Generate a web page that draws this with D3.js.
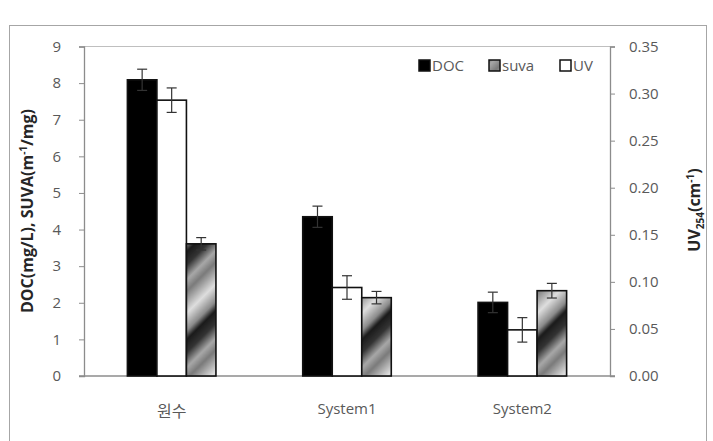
<!DOCTYPE html>
<html>
<head>
<meta charset="utf-8">
<script src="https://cdn.jsdelivr.net/npm/d3@7"></script>
<style>
  body { margin: 0; background: #fff; }
  text { font-family: "Open Sans", "Noto Sans", "Noto Sans CJK KR", sans-serif; }
</style>
</head>
<body>
<div id="chart"></div>
<script>
const categories = ['원수', 'System1', 'System2']
const docValues = [8.09, 4.35, 2.01]
const docErr = [0.29, 0.29, 0.28]
const uvValues = [0.293, 0.094, 0.049]
const uvErr = [0.013, 0.0125, 0.013]
const suvaValues = [3.61, 2.14, 2.33]
const suvaErr = [0.17, 0.17, 0.2]
const leftTicks = [0, 1, 2, 3, 4, 5, 6, 7, 8, 9]
const rightTicks = [0, 0.05, 0.10, 0.15, 0.20, 0.25, 0.30, 0.35]

const width = 713
const height = 441
const plotLeft = 84, plotRight = 610, plotTop = 46.5, plotBottom = 376
const labelColor = '#595959'
const axisColor = '#8c8c8c'

const svg = d3.select('#chart').append('svg')
    .attr('width', width)
    .attr('height', height)

const defs = svg.append('defs')
const grad = defs.append('linearGradient').attr('id', 'suvaGrad')
    .attr('x1', 0).attr('x2', 1).attr('y1', 0).attr('y2', 0)
const stops = [[0, '#1a1a1a'], [0.15, '#333'], [0.32, '#a8a8a8'], [0.45, '#7a7a7a'], [0.7, '#dedede'], [0.9, '#8a8a8a'], [1, '#1a1a1a']]
stops.forEach(s => grad.append('stop').attr('offset', s[0]).attr('stop-color', s[1]))
const pat = defs.append('pattern').attr('id', 'suvaPat')
    .attr('patternUnits', 'userSpaceOnUse')
    .attr('width', 62).attr('height', 10)
    .attr('patternTransform', 'rotate(45)')
pat.append('rect').attr('width', 62).attr('height', 10).attr('fill', 'url(#suvaGrad)')

// outer frame
svg.append('rect').attr('x', 9.5).attr('y', 25.5).attr('width', 697).attr('height', 440)
    .attr('fill', 'none').attr('stroke', '#a6a6a6').attr('stroke-width', 1)

const x0 = d3.scaleBand().domain(categories).range([plotLeft, plotRight])
const series = ['DOC', 'UV', 'suva']
const x1 = d3.scaleBand().domain(series).range([0, x0.bandwidth()]).paddingOuter(1.47)
const yL = d3.scaleLinear().domain([0, 9]).range([plotBottom, plotTop])
const yR = d3.scaleLinear().domain([0, 0.35]).range([plotBottom, plotTop])

// plot top border
svg.append('line').attr('x1', plotLeft).attr('x2', plotRight)
    .attr('y1', plotTop).attr('y2', plotTop).attr('stroke', '#bfbfbf')

// axes
const axL = svg.append('g').attr('transform', `translate(${plotLeft},0)`)
    .call(d3.axisLeft(yL).tickValues(leftTicks).tickSize(5).tickPadding(18).tickFormat(d3.format('d')))
const axR = svg.append('g').attr('transform', `translate(${plotRight},0)`)
    .call(d3.axisRight(yR).tickValues(rightTicks).tickSize(5).tickPadding(14).tickFormat(d3.format('.2f')))
const axB = svg.append('g').attr('transform', `translate(0,${plotBottom})`)
    .call(d3.axisBottom(x0).tickSize(0).tickPadding(27))
for (const ax of [axL, axR, axB]) {
    ax.select('.domain').attr('stroke', axisColor).attr('stroke-width', 1.3)
    ax.selectAll('.tick line').attr('stroke', axisColor)
    ax.selectAll('.tick text').attr('fill', labelColor).style('font-size', '15px')
}
axB.select('.domain').attr('d', `M${plotLeft - 5},0H${plotRight + 5}`)
axB.selectAll('.tick text').style('font-size', '15px')
axB.selectAll('.tick text').filter(d => d === '원수')
    .style('font-family', '"Noto Sans CJK KR", sans-serif').style('font-size', '16px').attr('dy', '0.85em')

// bars
const rows = categories.map((c, i) => [
    {cat: c, key: 'DOC', v: yL(docValues[i]), e1: yL(docValues[i] + docErr[i]), e0: yL(docValues[i] - docErr[i]), fill: '#000'},
    {cat: c, key: 'UV', v: yR(uvValues[i]), e1: yR(uvValues[i] + uvErr[i]), e0: yR(uvValues[i] - uvErr[i]), fill: '#fff'},
    {cat: c, key: 'suva', v: yL(suvaValues[i]), e1: yL(suvaValues[i] + suvaErr[i]), e0: yL(suvaValues[i] - suvaErr[i]), fill: 'url(#suvaPat)'}
]).flat()

svg.append('g').selectAll('rect').data(rows).join('rect')
    .attr('x', d => x0(d.cat) + x1(d.key))
    .attr('y', d => d.v)
    .attr('width', x1.bandwidth())
    .attr('height', d => plotBottom - d.v)
    .attr('fill', d => d.fill)
    .attr('stroke', '#111')
    .attr('stroke-width', 1.6)

// error bars
const eb = svg.append('g').attr('stroke', '#333').attr('stroke-width', 1.2)
rows.forEach(d => {
    const cx = x0(d.cat) + x1(d.key) + x1.bandwidth() / 2
    eb.append('line').attr('x1', cx).attr('x2', cx).attr('y1', d.e1).attr('y2', d.e0)
    eb.append('line').attr('x1', cx - 5).attr('x2', cx + 5).attr('y1', d.e1).attr('y2', d.e1)
    eb.append('line').attr('x1', cx - 5).attr('x2', cx + 5).attr('y1', d.e0).attr('y2', d.e0)
})

// legend
const legendItems = [
    {label: 'DOC', fill: '#000', x: 419},
    {label: 'suva', fill: 'url(#suvaPat)', x: 489},
    {label: 'UV', fill: '#fff', x: 560}
]
const lg = svg.append('g')
legendItems.forEach(it => {
    lg.append('rect').attr('x', it.x).attr('y', 60).attr('width', 11).attr('height', 11)
        .attr('fill', it.fill).attr('stroke', '#111').attr('stroke-width', 1.5)
    lg.append('text').attr('x', it.x + 13).attr('y', 66).attr('dy', '0.35em')
        .attr('fill', labelColor).style('font-size', '15px').text(it.label)
})

// axis titles
const tL = svg.append('text')
    .attr('transform', `translate(33,211) rotate(-90)`)
    .attr('text-anchor', 'middle').attr('fill', '#262626')
    .style('font-size', '16px').style('font-weight', 'bold')
tL.append('tspan').text('DOC(mg/L),  SUVA(m')
tL.append('tspan').attr('dy', -6).style('font-size', '10px').text('-1')
tL.append('tspan').attr('dy', 6).text('/mg)')

const tR = svg.append('text')
    .attr('transform', `translate(700,210) rotate(-90)`)
    .attr('text-anchor', 'middle').attr('fill', '#262626')
    .style('font-size', '16px').style('font-weight', 'bold')
tR.append('tspan').text('UV')
tR.append('tspan').attr('dy', 4).style('font-size', '10px').text('254')
tR.append('tspan').attr('dy', -4).text('(cm')
tR.append('tspan').attr('dy', -6).style('font-size', '10px').text('-1')
tR.append('tspan').attr('dy', 6).text(')')
</script>
</body>
</html>
